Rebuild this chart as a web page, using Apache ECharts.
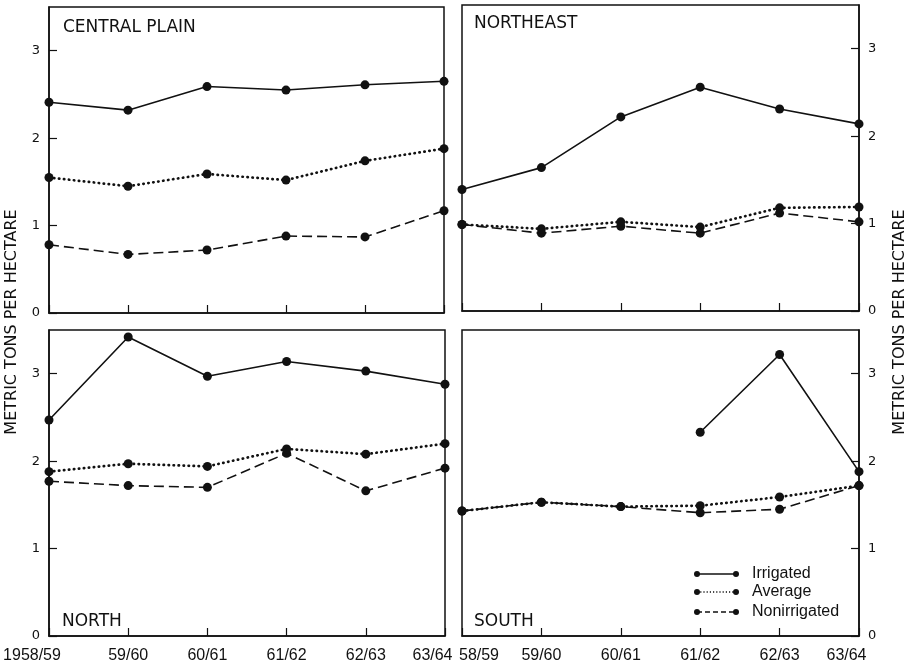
<!DOCTYPE html>
<html>
<head>
<meta charset="utf-8">
<script src="https://cdn.jsdelivr.net/npm/echarts@6/dist/echarts.min.js"></script>
<style>html,body{margin:0;padding:0;background:#fff;}#c{width:913px;height:668px;}</style>
</head>
<body>
<div id="c"></div>
<script>
const years = ['1958/59','59/60','60/61','61/62','62/63','63/64'];
const yearsSouth = ['58/59','59/60','60/61','61/62','62/63','63/64'];
const yTicks = [0,1,2,3];

const centralIrrigated    = [2.41,2.32,2.59,2.55,2.61,2.65];
const centralAverage      = [1.55,1.45,1.59,1.52,1.74,1.88];
const centralNonirrigated = [0.78,0.67,0.72,0.88,0.87,1.17];

const northeastIrrigated    = [1.39,1.64,2.22,2.56,2.31,2.14];
const northeastAverage      = [0.99,0.94,1.02,0.96,1.18,1.19];
const northeastNonirrigated = [0.99,0.89,0.97,0.89,1.12,1.02];

const northIrrigated    = [2.47,3.42,2.97,3.14,3.03,2.88];
const northAverage      = [1.88,1.97,1.94,2.14,2.08,2.20];
const northNonirrigated = [1.77,1.72,1.70,2.09,1.66,1.92];

const southIrrigated    = [null,null,null,2.33,3.22,1.88];
const southAverage      = [1.43,1.53,1.48,1.49,1.59,1.72];
const southNonirrigated = [1.43,1.53,1.48,1.41,1.45,1.72];

const panelNames = ['CENTRAL PLAIN','NORTHEAST','NORTH','SOUTH'];
const seriesNames = ['Irrigated','Average','Nonirrigated'];
const yTitle = 'METRIC TONS PER HECTARE';

const panels = [
  [centralIrrigated, centralAverage, centralNonirrigated],
  [northeastIrrigated, northeastAverage, northeastNonirrigated],
  [northIrrigated, northAverage, northNonirrigated],
  [southIrrigated, southAverage, southNonirrigated]
];

const BLACK = '#111';
const grids = [
  {left:49, top:7, width:395, height:306},
  {left:462, top:5, width:397, height:306},
  {left:49, top:330, width:396, height:306},
  {left:462, top:330, width:397, height:306}
].map(g => Object.assign(g, {show:true, borderColor:BLACK, borderWidth:1.5, backgroundColor:'transparent'}));

const labelFont = {color:BLACK, fontFamily:'Liberation Sans', fontSize:16};
const xAxes = [0,1,2,3].map(i => ({
  type:'category', gridIndex:i, boundaryGap:false,
  data: i === 3 ? yearsSouth : years,
  axisLine:{show:true, lineStyle:{color:BLACK, width:1.5}},
  axisTick:{show:true, inside:true, length:8, lineStyle:{color:BLACK, width:1.2}},
  axisLabel:{show: i >= 2, color:BLACK, fontFamily:'Liberation Sans', fontSize:16, margin:12,
    showMinLabel:true, showMaxLabel:true, interval:0,
    formatter: (v, idx) => idx === 0 ? '{first|' + v + '}' : (idx === 5 ? '{last|' + v + '}' : v),
    rich: {
      first: Object.assign({}, labelFont, {padding: i === 3 ? [0, 0, 0, 34] : [0, 34, 0, 0]}),
      last: Object.assign({}, labelFont, {padding: [0, 25, 0, 0]})
    }},
  splitLine:{show:false}
}));

const yAxes = [0,1,2,3].map(i => ({
  type:'value', gridIndex:i, min:0, max:3.5,
  position: (i % 2 === 1) ? 'right' : 'left',
  axisLine:{show:true, lineStyle:{color:BLACK, width:1.5}},
  axisTick:{show:true, inside:true, length:8, customValues:yTicks, lineStyle:{color:BLACK, width:1.2}},
  axisLabel:{show:true, customValues:yTicks, color:BLACK, fontFamily:'DejaVu Sans', fontSize:13, margin:9},
  splitLine:{show:false}
}));

const lineStyles = [
  {color:BLACK, width:1.6, type:'solid'},
  {color:BLACK, width:2.7, type:[0.4,4.6], cap:'round'},
  {color:BLACK, width:1.6, type:[10,5]}
];

const series = [];
panels.forEach((p, i) => {
  p.forEach((vals, k) => {
    series.push({
      name: seriesNames[k], type:'line', xAxisIndex:i, yAxisIndex:i,
      data: vals, connectNulls:false,
      symbol:'circle', symbolSize:9, showAllSymbol:true,
      itemStyle:{color:BLACK},
      lineStyle: lineStyles[k],
      emphasis:{disabled:true}, animation:false, z: 3 - k
    });
  });
});

const titleStyle = {color:BLACK, fontFamily:'DejaVu Sans', fontSize:17, fontWeight:'normal'};
const titles = [
  {text:panelNames[0], left:63, top:19, padding:0, textStyle:titleStyle},
  {text:panelNames[1], left:474, top:15, padding:0, textStyle:titleStyle},
  {text:panelNames[2], left:62, top:613, padding:0, textStyle:titleStyle},
  {text:panelNames[3], left:474, top:613, padding:0, textStyle:titleStyle}
];

// legend (decoration)
const legendRows = [574, 592, 612];
const legendGraphics = [];
legendRows.forEach((y, k) => {
  legendGraphics.push({type:'line', shape:{x1:697, y1:y, x2:736, y2:y},
    style:{stroke:BLACK, lineWidth: k===1 ? 1.6 : 1.3, lineDash: k===0 ? null : (k===1 ? [1.2,2] : [5,3])}});
  legendGraphics.push({type:'circle', shape:{cx:697, cy:y, r:3}, style:{fill:BLACK}});
  legendGraphics.push({type:'circle', shape:{cx:736, cy:y, r:3}, style:{fill:BLACK}});
  legendGraphics.push({type:'text', x:752, y:y, style:{text:seriesNames[k], fill:BLACK,
    font:'16px "Liberation Sans"', textVerticalAlign:'middle', textAlign:'left'}});
});

const chart = echarts.init(document.getElementById('c'), null, {renderer:'canvas'});
chart.setOption({
  animation:false,
  backgroundColor:'#fff',
  title: titles,
  grid: grids,
  xAxis: xAxes,
  yAxis: yAxes,
  series: series,
  graphic: [
    {type:'text', x:12, y:322, rotation:Math.PI/2,
      style:{text:yTitle, fill:BLACK, font:'16px "DejaVu Sans"', textAlign:'center', textVerticalAlign:'middle'}},
    {type:'text', x:900, y:322, rotation:Math.PI/2,
      style:{text:yTitle, fill:BLACK, font:'16px "DejaVu Sans"', textAlign:'center', textVerticalAlign:'middle'}}
  ].concat(legendGraphics)
});
</script>
</body>
</html>
